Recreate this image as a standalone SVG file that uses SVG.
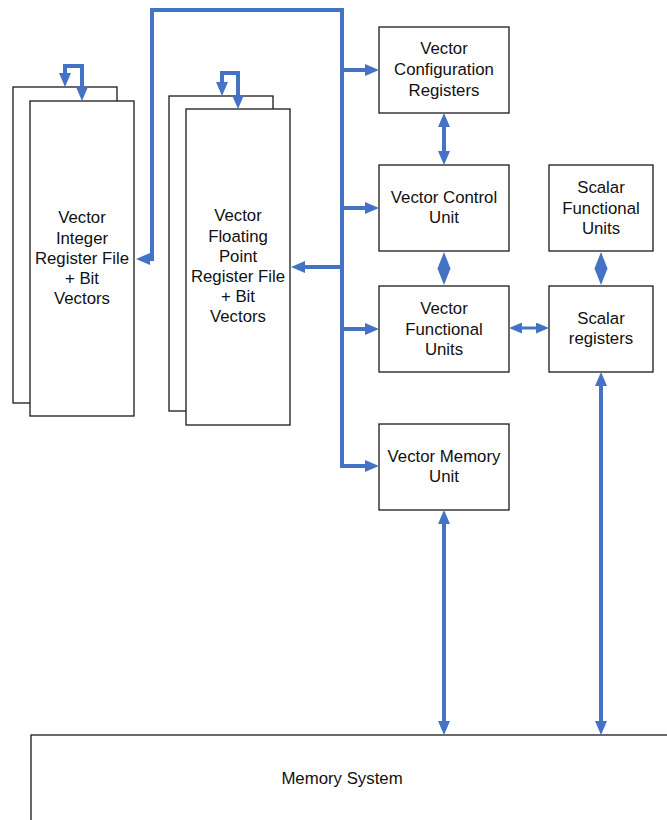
<svg xmlns="http://www.w3.org/2000/svg" width="667" height="820" viewBox="0 0 667 820">
<style>
.box{fill:#fff;stroke:#1a1a1a;stroke-width:1.3}
.t{font-family:"Liberation Sans",Arial,sans-serif;font-size:16.8px;fill:#111;text-anchor:middle}
.c{fill:none;stroke:#4472C4;stroke-width:4}
.cm{fill:none;stroke:#4472C4;stroke-width:3}
.d{fill:#4472C4}
</style>
<defs>
<marker id="ah" markerUnits="userSpaceOnUse" markerWidth="14" markerHeight="12" refX="3" refY="6" orient="auto-start-reverse"><path d="M0,0 L14,6 L0,12 z" fill="#4472C4"/></marker>
<marker id="sh" markerUnits="userSpaceOnUse" markerWidth="13" markerHeight="11" refX="1" refY="5.5" orient="auto-start-reverse"><path d="M0,0 L13,5.5 L0,11 z" fill="#4472C4"/></marker>
</defs>
<rect width="667" height="820" fill="#fff"/>
<g id="vint">
<rect class="box" x="13" y="87" width="104" height="316"/>
<rect class="box" x="30" y="101" width="104" height="315"/>
<text class="t"><tspan x="82" y="223">Vector</tspan><tspan x="82" y="244">Integer</tspan><tspan x="82" y="264">Register File</tspan><tspan x="82" y="284">+ Bit</tspan><tspan x="82" y="304">Vectors</tspan></text>
</g>
<g id="vfp">
<rect class="box" x="169" y="96" width="104" height="315"/>
<rect class="box" x="186" y="109" width="104" height="316"/>
<text class="t"><tspan x="238" y="221">Vector</tspan><tspan x="238" y="242">Floating</tspan><tspan x="238" y="262">Point</tspan><tspan x="238" y="282">Register File</tspan><tspan x="238" y="302">+ Bit</tspan><tspan x="238" y="322">Vectors</tspan></text>
</g>
<g id="vcr">
<rect class="box" x="379" y="27" width="130" height="86"/>
<text class="t"><tspan x="444" y="54">Vector</tspan><tspan x="444" y="75">Configuration</tspan><tspan x="444" y="96">Registers</tspan></text>
</g>
<g id="vcu">
<rect class="box" x="379" y="165" width="130" height="86"/>
<text class="t"><tspan x="444" y="203">Vector Control</tspan><tspan x="444" y="223">Unit</tspan></text>
</g>
<g id="sfu">
<rect class="box" x="549" y="165" width="104" height="86"/>
<text class="t"><tspan x="601" y="193">Scalar</tspan><tspan x="601" y="214">Functional</tspan><tspan x="601" y="234">Units</tspan></text>
</g>
<g id="vfu">
<rect class="box" x="379" y="286" width="130" height="86"/>
<text class="t"><tspan x="444" y="314">Vector</tspan><tspan x="444" y="335">Functional</tspan><tspan x="444" y="355">Units</tspan></text>
</g>
<g id="sreg">
<rect class="box" x="549" y="286" width="104" height="86"/>
<text class="t"><tspan x="601" y="324">Scalar</tspan><tspan x="601" y="344">registers</tspan></text>
</g>
<g id="vmu">
<rect class="box" x="379" y="424" width="130" height="86"/>
<text class="t"><tspan x="444" y="462">Vector Memory</tspan><tspan x="444" y="482">Unit</tspan></text>
</g>
<g id="mem">
<rect class="box" x="31" y="735" width="660" height="100"/>
<text class="t" x="342" y="784">Memory System</text>
</g>
<g id="connectors">
<path class="c" d="M65,76 V66 H82 V90" marker-start="url(#ah)" marker-end="url(#ah)"/>
<path class="c" d="M222,85 V73 H238 V98" marker-start="url(#ah)" marker-end="url(#ah)"/>
<path class="c" d="M147,259 H152 V10 H342 V466 H368" marker-start="url(#ah)" marker-end="url(#ah)"/>
<path class="c" d="M342,70 H368" marker-end="url(#ah)"/>
<path class="c" d="M342,208 H368" marker-end="url(#ah)"/>
<path class="c" d="M342,329 H368" marker-end="url(#ah)"/>
<path class="c" d="M342,267 H302" marker-end="url(#ah)"/>
<path class="c" d="M444,124 V154" marker-start="url(#ah)" marker-end="url(#ah)"/>
<polygon class="d" points="444,252 450.5,268.5 444,285 437.5,268.5"/>
<polygon class="d" points="601,252 607.5,268.5 601,285 594.5,268.5"/>
<path class="cm" d="M521,328 H537" marker-start="url(#sh)" marker-end="url(#sh)"/>
<path class="c" d="M444,521 V724" marker-start="url(#ah)" marker-end="url(#ah)"/>
<path class="c" d="M601,383 V724" marker-start="url(#ah)" marker-end="url(#ah)"/>
</g>
</svg>
